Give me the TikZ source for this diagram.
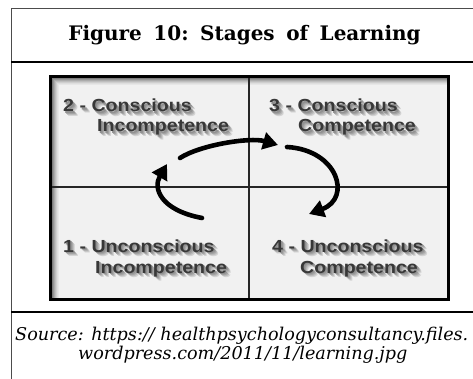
\documentclass[tikz,border=0pt]{standalone}
\usepackage{fontspec}
\usetikzlibrary{arrows.meta}
\newfontfamily\cellfont{Liberation Sans}[FakeStretch=1.12]
\newfontfamily\serifface{DejaVu Serif}
\definecolor{boxbg}{HTML}{F1F1F1}
\definecolor{labelgrey}{HTML}{383838}

% label text with a soft drop shadow set behind it in the same box
\newcommand{\softshadow}[1]{%
  \makebox[0pt][l]{\kern4.5pt\raisebox{-4.5pt}{\textcolor{black!12!boxbg}{#1}}}%
  \makebox[0pt][l]{\kern3.5pt\raisebox{-3.5pt}{\textcolor{black!22!boxbg}{#1}}}%
  \makebox[0pt][l]{\kern2.5pt\raisebox{-2.5pt}{\textcolor{black!32!boxbg}{#1}}}%
  \makebox[0pt][l]{\kern1.5pt\raisebox{-1.5pt}{\textcolor{black!40!boxbg}{#1}}}%
  #1}

\begin{document}
\begin{tikzpicture}[x=1pt,y=-1pt,
  frameline/.style={line width=1pt,draw=black!70},
  rule/.style={line width=1.6pt,draw=black},
  quad/.style={draw=none,fill=boxbg,minimum width=199pt,minimum height=111pt,inner sep=0pt},
  celltext/.style={anchor=base west,inner sep=0pt,text=labelgrey,
    font=\cellfont\bfseries\fontsize{17.5}{20}\selectfont},
  bigarrow/.style={line width=4.6pt,line cap=round,
    -{Triangle[length=15pt,width=17pt]}},
  titletext/.style={anchor=base,inner sep=0pt,
    font=\serifface\bfseries\fontsize{20}{24}\selectfont},
  srctext/.style={anchor=base west,inner sep=0pt,
    font=\serifface\itshape\fontsize{17.6}{20}\selectfont}
]
\useasboundingbox (0,0) rectangle (473,379);
\fill[white] (0,0) rectangle (473,379);

% outer frame with title and source rules
\draw[frameline] (473,9) -- (11,9) -- (11,379);
\draw[rule] (11,62) -- (473,62);
\draw[rule,line width=2pt] (11,312) -- (473,312);

\node[titletext] (title) at (244.5,41)
  {Figure\hspace{11.5pt}10:\hspace{11.5pt}Stages\hspace{11.5pt}of\hspace{11.5pt}Learning};

% the four quadrants
\node[quad] (q2) at (149.5,132) {};
\node[quad] (q3) at (348.5,132) {};
\node[quad] (q1) at (149.5,243) {};
\node[quad] (q4) at (348.5,243) {};

% inner shadow along the top and left edges
\foreach \i/\c in {1/60,2/48,3/38,4/29,5/21,6/14,7/8,8/4}
  \draw[draw=black!\c!boxbg,line width=1pt]
    ({50+\i},299) -- ({50+\i},{77+\i}) -- (448,{77+\i});

% dividers and border
\draw[line width=1.8pt,draw=black!85] (50,187) -- (448,187);
\draw[line width=1.8pt,draw=black!85] (249,77) -- (249,299);
\draw[line width=3pt] (50,77) rectangle (448,299);

% stage labels
\node[celltext] (l2a) at (63,112)  {\softshadow{2 - Conscious}};
\node[celltext] (l2b) at (97,132)  {\softshadow{Incompetence}};
\node[celltext] (l3a) at (269,112) {\softshadow{3 - Conscious}};
\node[celltext] (l3b) at (298,132) {\softshadow{Competence}};
\node[celltext] (l1a) at (63,252)  {\softshadow{1 - Unconscious}};
\node[celltext] (l1b) at (95,273)  {\softshadow{Incompetence}};
\node[celltext] (l4a) at (272,252) {\softshadow{4 - Unconscious}};
\node[celltext] (l4b) at (300,273) {\softshadow{Competence}};

% cycle arrows
\coordinate (c1s) at (202,218);
\coordinate (c1e) at (167,164);
\coordinate (a1s) at (180,158);
\coordinate (a1e) at (278,145);
\coordinate (b1s) at (287,147);
\coordinate (b1e) at (309,214);
\draw[bigarrow] (c1s) .. controls (160,210) and (153,188) .. (c1e);
\draw[bigarrow] (a1s) .. controls (200,145) and (250,137) .. (a1e);
\draw[bigarrow] (b1s) .. controls (338,150) and (352,198) .. (b1e);

% source
\node[srctext] (src1) at (15,340) {Source: https:// healthpsychologyconsultancy.files.};
\node[srctext] (src2) at (78,359) {wordpress.com/2011/11/learning.jpg};
\end{tikzpicture}
\end{document}
